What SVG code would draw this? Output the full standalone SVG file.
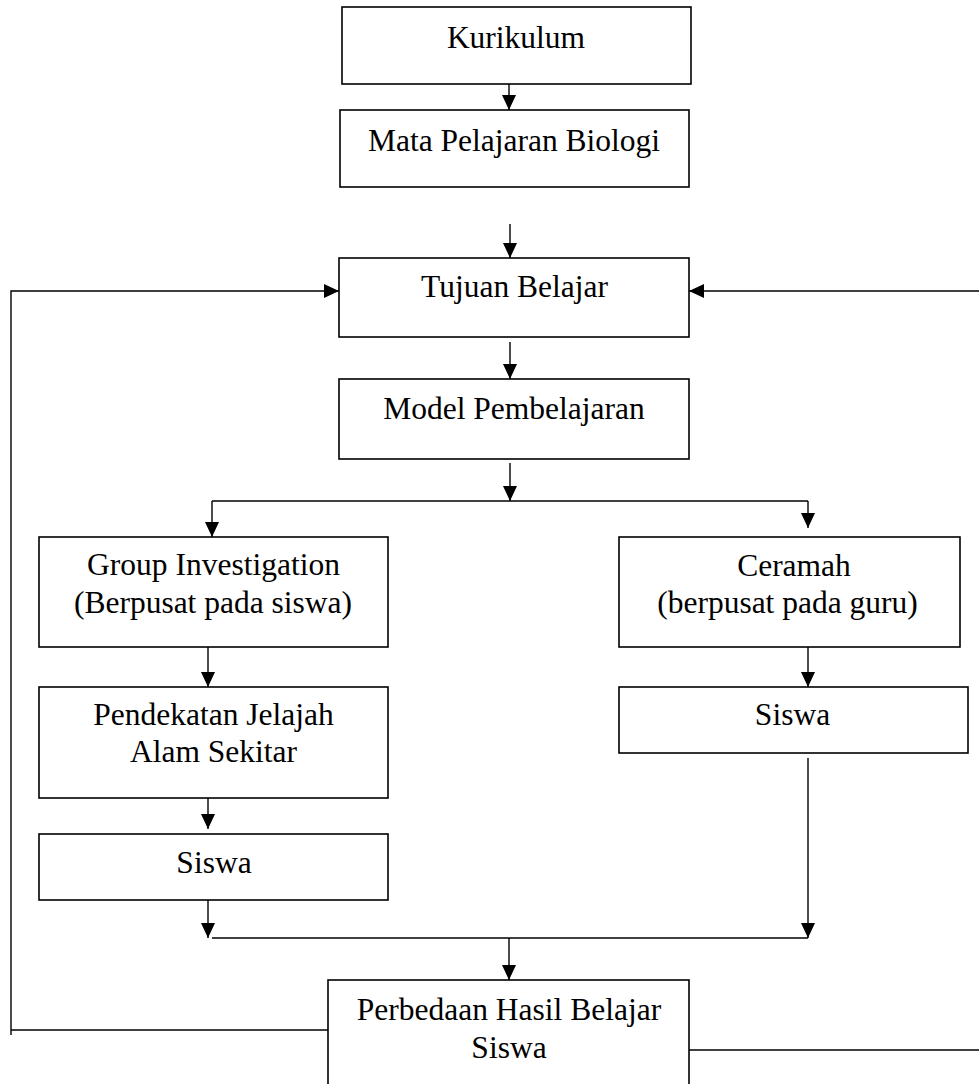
<svg xmlns="http://www.w3.org/2000/svg" width="979" height="1084" viewBox="0 0 979 1084">
<style>
.box{fill:#fff;stroke:#000;stroke-width:1.6}
.ln{fill:none;stroke:#000;stroke-width:1.4}
.ar{fill:none;stroke:#000;stroke-width:1.4;marker-end:url(#ah)}
text{font-family:"Liberation Serif","Times New Roman",serif;font-size:31.5px;fill:#000;text-anchor:middle}
</style>
<defs>
<marker id="ah" markerUnits="userSpaceOnUse" markerWidth="16" markerHeight="15" refX="15" refY="7" orient="auto">
<path d="M0,0 L15,7 L0,14 z" fill="#000"/>
</marker>
</defs>
<rect x="0" y="0" width="979" height="1084" fill="#fff"/>
<g id="connectors">
<path class="ar" d="M509,84 V110"/>
<path class="ar" d="M510,224 V258"/>
<path class="ln" d="M328,1030 H11"/>
<path class="ar" d="M11,1035 V291 H339"/>
<path class="ar" d="M979,291 H689"/>
<path class="ln" d="M689,1050 H979"/>
<path class="ar" d="M510,342 V379"/>
<path class="ar" d="M510,463 V501"/>
<path class="ln" d="M212,501 H808"/>
<path class="ar" d="M212,501 V537"/>
<path class="ar" d="M808,501 V528"/>
<path class="ar" d="M208,647 V687"/>
<path class="ar" d="M208,798 V829"/>
<path class="ar" d="M208,900 V938"/>
<path class="ln" d="M212,938 H808"/>
<path class="ar" d="M808,647 V687"/>
<path class="ar" d="M808,758 V938"/>
<path class="ar" d="M509,938 V980"/>
</g>
<g id="kurikulum">
<rect class="box" x="342" y="7" width="349" height="77"/>
<text x="516" y="48">Kurikulum</text>
</g>
<g id="mata-pelajaran">
<rect class="box" x="340" y="110" width="349" height="77"/>
<text x="514" y="151">Mata Pelajaran Biologi</text>
</g>
<g id="tujuan-belajar">
<rect class="box" x="339" y="258" width="350" height="79"/>
<text x="514.5" y="297">Tujuan Belajar</text>
</g>
<g id="model-pembelajaran">
<rect class="box" x="339" y="379" width="350" height="80"/>
<text x="514" y="419">Model Pembelajaran</text>
</g>
<g id="group-investigation">
<rect class="box" x="39" y="537" width="349" height="110"/>
<text x="213.5" y="575">Group Investigation</text>
<text x="213" y="613">(Berpusat pada siswa)</text>
</g>
<g id="pendekatan">
<rect class="box" x="39" y="687" width="349" height="111"/>
<text x="213.5" y="725">Pendekatan Jelajah</text>
<text x="213.5" y="762">Alam Sekitar</text>
</g>
<g id="siswa-left">
<rect class="box" x="39" y="834" width="349" height="66"/>
<text x="214" y="873">Siswa</text>
</g>
<g id="ceramah">
<rect class="box" x="619" y="537" width="341" height="110"/>
<text x="794" y="576">Ceramah</text>
<text x="787.5" y="613">(berpusat pada guru)</text>
</g>
<g id="siswa-right">
<rect class="box" x="619" y="687" width="349" height="66"/>
<text x="792.5" y="725">Siswa</text>
</g>
<g id="perbedaan">
<rect class="box" x="328" y="980" width="361" height="115"/>
<text x="509" y="1020">Perbedaan Hasil Belajar</text>
<text x="509" y="1058">Siswa</text>
</g>
</svg>
